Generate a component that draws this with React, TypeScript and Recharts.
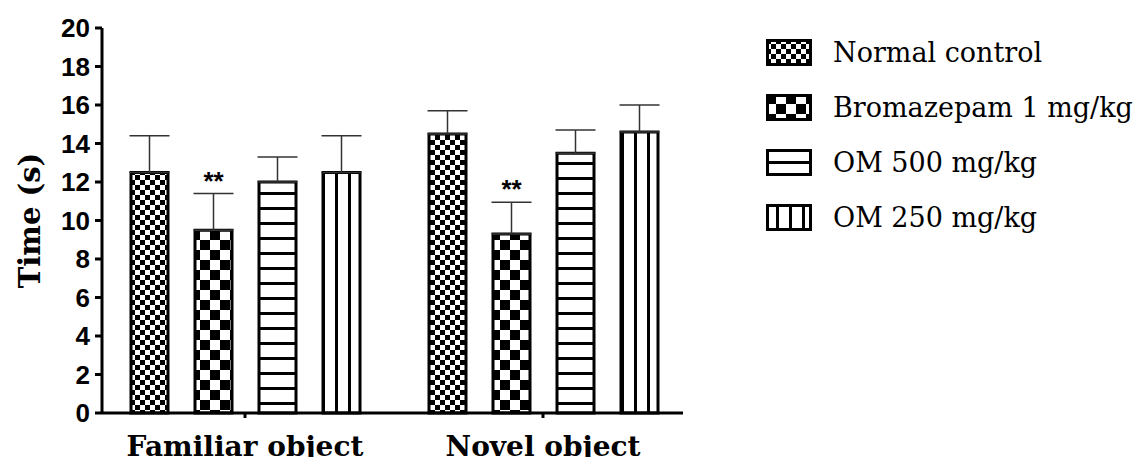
import React from 'react';
import { BarChart, Bar, XAxis, YAxis, ErrorBar, LabelList, Legend } from 'recharts';

// values (mean time, +SEM)
const CATEGORIES = ['Familiar object', 'Novel object'];
const NORMAL = [12.5, 14.5];
const NORMAL_ERR = [1.9, 1.2];
const BROMAZEPAM = [9.5, 9.3];
const BROMAZEPAM_ERR = [1.9, 1.65];
const OM500 = [12.0, 13.5];
const OM500_ERR = [1.3, 1.2];
const OM250 = [12.5, 14.6];
const OM250_ERR = [1.9, 1.4];
const SIGNIFICANCE = ['**', '**'];
const Y_TICKS = [0, 2, 4, 6, 8, 10, 12, 14, 16, 18, 20];

const SERIES = [
  { key: 'normal', name: 'Normal control', values: NORMAL, errors: NORMAL_ERR, pattern: 'pat-fine' },
  { key: 'broma', name: 'Bromazepam 1 mg/kg', values: BROMAZEPAM, errors: BROMAZEPAM_ERR, pattern: 'pat-big' },
  { key: 'om500', name: 'OM 500 mg/kg', values: OM500, errors: OM500_ERR, pattern: 'pat-hline' },
  { key: 'om250', name: 'OM 250 mg/kg', values: OM250, errors: OM250_ERR, pattern: 'pat-vline' },
];

const data = CATEGORIES.map((category, i) => {
  const row: Record<string, any> = { category, sig: SIGNIFICANCE[i] };
  SERIES.forEach((s) => {
    row[s.key] = s.values[i];
    row[s.key + 'Err'] = [0, s.errors[i]];
  });
  return row;
});

const SERIF = '"DejaVu Serif", "Liberation Serif", serif';
const SANS = '"Liberation Sans", Arial, sans-serif';
const LEGEND_W = 370;

function Patterns() {
  return (
    <defs>
      <pattern id="pat-fine" patternUnits="userSpaceOnUse" width="10" height="10">
        <rect width="10" height="10" fill="#fff" />
        <rect width="5" height="5" fill="#000" />
        <rect x="5" y="5" width="5" height="5" fill="#000" />
      </pattern>
      <pattern id="pat-big" patternUnits="userSpaceOnUse" width="20" height="20">
        <rect width="20" height="20" fill="#fff" />
        <rect width="10" height="10" fill="#000" />
        <rect x="10" y="10" width="10" height="10" fill="#000" />
      </pattern>
      <pattern id="pat-hline" patternUnits="userSpaceOnUse" width="10" height="15">
        <rect width="10" height="15" fill="#fff" />
        <rect y="12" width="10" height="3" fill="#000" />
      </pattern>
      <pattern id="pat-vline" patternUnits="userSpaceOnUse" width="13" height="10">
        <rect width="13" height="10" fill="#fff" />
        <rect x="10" width="3" height="10" fill="#000" />
      </pattern>
    </defs>
  );
}

const XTick = (props: any) => {
  const { x, y, payload } = props;
  return (
    <text x={x} y={y + 36} textAnchor="middle" fontFamily={SERIF} fontWeight="bold" fontSize={28} fill="#000">
      {payload.value}
    </text>
  );
};

const YLabel = (props: any) => {
  const vb = props.viewBox || {};
  const cx = (vb.x ?? 0) + 30;
  const cy = (vb.y ?? 0) + (vb.height ?? 0) / 2;
  return (
    <text
      x={cx}
      y={cy}
      transform={`rotate(-90, ${cx}, ${cy})`}
      textAnchor="middle"
      dominantBaseline="central"
      fontFamily={SERIF}
      fontWeight="bold"
      fontSize={29}
      fill="#000"
    >
      Time (s)
    </text>
  );
};

const SigLabel = (props: any) => {
  const vb = props.viewBox || props;
  const { x, y, width, height } = vb;
  const idx = props.index ?? 0;
  const value = BROMAZEPAM[idx];
  const err = BROMAZEPAM_ERR[idx];
  if (!value || x == null) return null;
  const errTop = y - (err * height) / value;
  return (
    <text x={x + width / 2} y={errTop - 4} textAnchor="middle" fontFamily={SANS} fontWeight="bold" fontSize={26} fill="#000">
      {props.value}
    </text>
  );
};

const renderLegend = () => (
  <div>
    {SERIES.map((s) => (
      <div key={s.key} style={{ display: 'flex', alignItems: 'center', height: 55 }}>
        <svg width={46} height={27} style={{ marginRight: 21 }}>
          <rect x={1.5} y={1.5} width={43} height={24} fill={`url(#${s.pattern})`} stroke="#000" strokeWidth={3} />
        </svg>
        <span style={{ fontFamily: SERIF, fontSize: 27, color: '#000', whiteSpace: 'nowrap' }}>{s.name}</span>
      </div>
    ))}
  </div>
);

export default function App() {
  return (
    <div style={{ position: 'fixed', left: 0, top: 0, width: 1136, height: 457, background: '#fff' }}>
      <BarChart
        width={1136}
        height={457}
        data={data}
        margin={{ top: 28, right: 453 - LEGEND_W, bottom: 0, left: 0 }}
        barGap={27}
      >
        <Patterns />
        <XAxis
          dataKey="category"
          height={44}
          padding={{ left: -6, right: -9 }}
          axisLine={{ stroke: '#000', strokeWidth: 3 }}
          tickLine={{ stroke: '#000', strokeWidth: 3 }}
          tickSize={5}
          tick={<XTick />}
        />
        <YAxis
          width={102}
          domain={[0, 20]}
          ticks={Y_TICKS}
          interval={0}
          axisLine={{ stroke: '#000', strokeWidth: 3 }}
          tickLine={{ stroke: '#000', strokeWidth: 3 }}
          tickSize={7}
          tickMargin={5}
          tick={{ fontFamily: SANS, fontWeight: 'bold', fontSize: 26, fill: '#000' }}
          label={{ content: <YLabel /> }}
        />
        <Legend
          layout="vertical"
          verticalAlign="top"
          align="right"
          content={renderLegend}
          wrapperStyle={{ left: 766, top: 25, width: LEGEND_W }}
        />
        {SERIES.map((s) => (
          <Bar
            key={s.key}
            dataKey={s.key}
            name={s.name}
            barSize={37}
            fill={`url(#${s.pattern})`}
            stroke="#000"
            strokeWidth={3}
            isAnimationActive={false}
          >
            <ErrorBar dataKey={s.key + 'Err'} width={20} stroke="#333" strokeWidth={1.5} direction="y" />
            {s.key === 'broma' && <LabelList dataKey="sig" content={<SigLabel />} />}
          </Bar>
        ))}
      </BarChart>
    </div>
  );
}
